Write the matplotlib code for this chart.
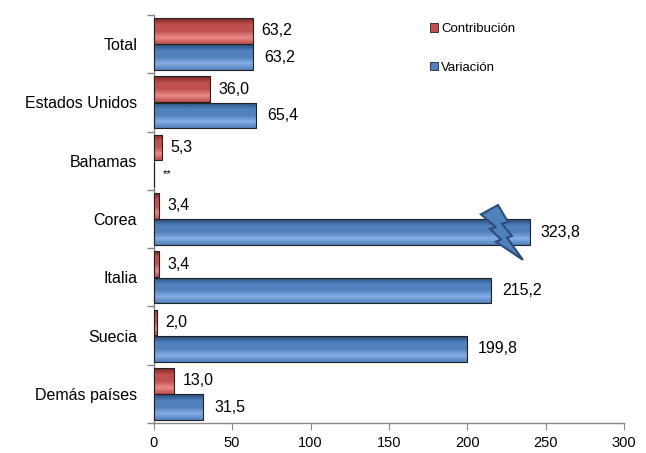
import numpy as np
import matplotlib
matplotlib.use('Agg')
import matplotlib.pyplot as plt
from matplotlib.patches import Patch, Polygon
from matplotlib.colors import LinearSegmentedColormap

plt.rcParams['font.family'] = ['Liberation Sans', 'DejaVu Sans']

categorias = ['Total', 'Estados Unidos', 'Bahamas', 'Corea', 'Italia', 'Suecia', 'Demás países']
contribucion = [63.2, 36.0, 5.3, 3.4, 3.4, 2.0, 13.0]
variacion = [63.2, 65.4, None, 323.8, 215.2, 199.8, 31.5]
etiqueta_sin_dato = '**'
corte_eje = 240  # bars above this are drawn broken at this value

rojo = ['#7a2624', '#c0504d', '#e98b89']
azul = ['#274a78', '#4f81bd', '#86aee6']


def fmt(v):
    return ('%.1f' % v).replace('.', ',')


def gradient_bar(ax, patch, cols):
    cmap = LinearSegmentedColormap.from_list('g', [cols[0], cols[1], cols[1], cols[2], cols[1]])
    x0, y0 = patch.get_x(), patch.get_y()
    w, h = patch.get_width(), patch.get_height()
    grad = np.linspace(0, 1, 64).reshape(-1, 1)
    im = ax.imshow(grad, cmap=cmap, aspect='auto', extent=[x0, x0 + w, y0 + h, y0],
                   origin='upper', zorder=2)
    im.set_clip_path(patch)


fig = plt.figure(figsize=(6.46, 4.53), dpi=100)
ax = fig.add_axes([0.238, 0.066, 0.728, 0.901])

y = np.arange(len(categorias))
h = 0.44
off = 0.225

v_plot = [min(v, corte_eje) if v is not None else 0 for v in variacion]

bars_r = ax.barh(y - off, contribucion, height=h, color=rojo[1], edgecolor='#222222',
                 linewidth=0.8, zorder=3)
bars_b = ax.barh(y + off, v_plot, height=h, color=azul[1], edgecolor='#222222',
                 linewidth=0.8, zorder=3)
for p in bars_r:
    p.set_facecolor('none')
    gradient_bar(ax, p, rojo)
for p in bars_b:
    p.set_facecolor('none')
    gradient_bar(ax, p, azul)

for i, v in enumerate(contribucion):
    ax.text(v + 5.5, y[i] - off, fmt(v), va='center', ha='left', fontsize=11.5, zorder=5)
for i, v in enumerate(variacion):
    if v is None:
        ax.text(5.5, y[i] + off, etiqueta_sin_dato, va='center', ha='left', fontsize=8, zorder=5)
    else:
        ax.text(v_plot[i] + 7, y[i] + off, fmt(v), va='center', ha='left', fontsize=11.5, zorder=5)

# lightning bolt marking the broken bar
bolt = np.array([(-31.3, -0.08), (-20.4, -0.24), (-14.0, 0.05), (-17.9, 0.08),
                 (-11.5, 0.29), (-14.7, 0.32), (-4.5, 0.70), (-21.7, 0.39),
                 (-18.5, 0.35), (-25.5, 0.17), (-21.7, 0.14)])
for i, v in enumerate(variacion):
    if v is not None and v > corte_eje:
        pts = bolt + [corte_eje, y[i]]
        ax.add_patch(Polygon(pts, closed=True, facecolor='#4f81bd', edgecolor='#2c4d7a',
                             linewidth=1.5, zorder=6, clip_on=False))

ax.set_xlim(0, 300)
ax.set_ylim(len(categorias) - 0.5, -0.5)
ax.set_xticks(np.arange(0, 301, 50))
ax.set_yticks(y)
ax.set_yticklabels(categorias, fontsize=11.5)
ax.set_yticks(np.arange(-0.5, len(categorias)), minor=True)
ax.tick_params(axis='y', which='major', length=0, pad=12)
ax.tick_params(axis='y', which='minor', length=5, color='#888888', width=1)
ax.tick_params(axis='x', length=5, color='#888888', labelsize=10.5, pad=4)
for s in ['top', 'right']:
    ax.spines[s].set_visible(False)
for s in ['left', 'bottom']:
    ax.spines[s].set_color('#888888')
    ax.spines[s].set_linewidth(1)

handles = [Patch(facecolor=rojo[1], edgecolor='#222222', linewidth=0.6),
           Patch(facecolor=azul[1], edgecolor='#222222', linewidth=0.6)]
fig.legend(handles, ['Contribución', 'Variación'], loc='upper left',
           bbox_to_anchor=(0.648, 0.975), frameon=False, fontsize=9.5,
           handlelength=0.6, handleheight=0.6, handletextpad=0.2, labelspacing=2.0)

fig.savefig('out.png', dpi=100)
